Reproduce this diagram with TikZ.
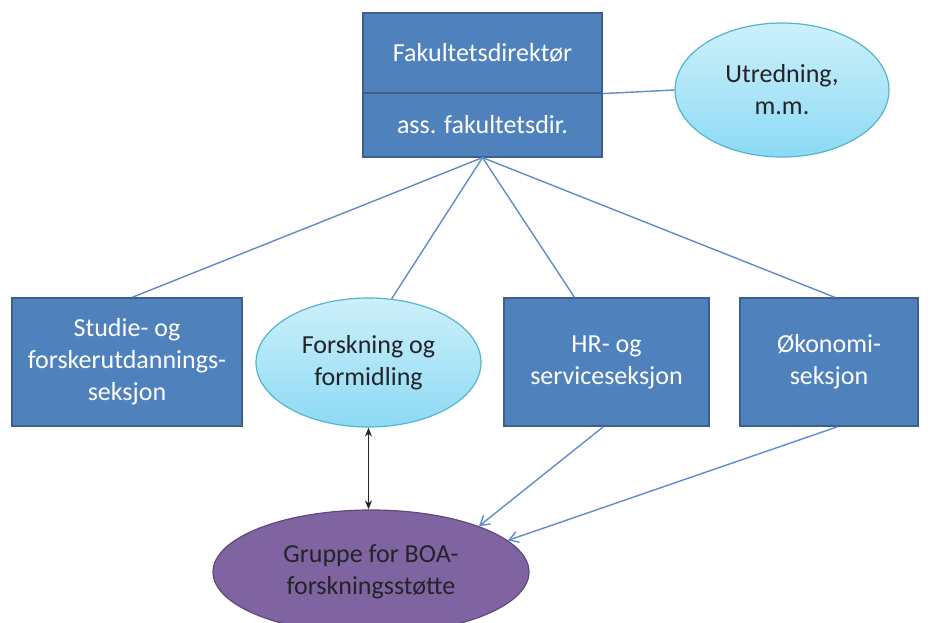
\documentclass[tikz,border=0pt]{standalone}
\usepackage{fontspec}
\setmainfont{Carlito}
\usetikzlibrary{shapes.geometric, arrows.meta, positioning, calc}
\definecolor{unitblue}{RGB}{79, 129, 189}
\definecolor{unitedge}{RGB}{60, 95, 140}
\definecolor{staffcyan}{RGB}{205, 240, 251}
\definecolor{staffcyandark}{RGB}{140, 218, 244}
\definecolor{staffedge}{RGB}{85, 180, 205}
\definecolor{groupviolet}{RGB}{128, 100, 162}
\definecolor{groupedge}{RGB}{95, 74, 122}
\definecolor{inkdark}{RGB}{35, 35, 40}
\definecolor{linkblue}{RGB}{95, 140, 200}
\tikzset{
  orgline/.style={draw=linkblue, line width=1.4pt},
  feedarrow/.style={-{Straight Barb[length=9pt, width=11pt]}, draw=linkblue, line width=1.4pt},
  linkarrow/.style={{Stealth[length=9pt, width=7pt]}-{Stealth[length=9pt, width=7pt]}, draw=black!85, line width=1.6pt}
}
\tikzset{
  unitbox/.style={rectangle, draw=unitedge, line width=1.2pt, fill=unitblue, text=white, align=center, inner sep=0pt, font=\fontsize{26}{32}\selectfont},
  staffoval/.style={ellipse, draw=staffedge, line width=1.2pt, top color=staffcyan, bottom color=staffcyandark, text=inkdark, align=center, inner sep=0pt, font=\fontsize{26}{32}\selectfont},
  groupoval/.style={ellipse, draw=groupedge, line width=1.2pt, fill=groupviolet, text=inkdark, align=center, inner sep=0pt, font=\fontsize{26}{32}\selectfont}
}

\begin{document}
\begin{tikzpicture}[x=1pt, y=-1pt]
    \useasboundingbox (0,0) rectangle (930,623);

    % top: faculty director
    \node[unitbox, minimum width=239pt, minimum height=80pt] (direktor) at (482.5,53) {Fakultetsdirektør};
    \node[unitbox, minimum width=239pt, minimum height=64pt] (assdir) at (482.5,125) {ass. fakultetsdir.};
    \node[staffoval, minimum width=214pt, minimum height=134pt] (utred) at (782,90) {Utredning,\\m.m.};

    % sections
    \node[unitbox, minimum width=230pt, minimum height=128pt] (studie) at (127,362) {Studie- og\\forskerutdannings-\\seksjon};
    \node[staffoval, minimum width=225pt, minimum height=129pt] (forsk) at (368.5,362.5) {Forskning og\\formidling};
    \node[unitbox, minimum width=205pt, minimum height=128pt] (hr) at (606.5,362) {HR- og\\serviceseksjon};
    \node[unitbox, minimum width=178pt, minimum height=128pt] (okonomi) at (829,362) {Økonomi-\\seksjon};

    % research support group
    \node[groupoval, minimum width=316pt, minimum height=124pt] (gruppe) at (371,572) {Gruppe for BOA-\\forskningsstøtte};

    \draw[orgline] (direktor.south east) -- (utred.west);
    \draw[orgline] (assdir.south) -- ([xshift=5pt]studie.north);
    \draw[orgline] (assdir.south) -- (forsk.70);
    \draw[orgline] (assdir.south) -- ([xshift=-32pt]hr.north);
    \draw[orgline] (assdir.south) -- ([xshift=6pt]okonomi.north);

    \draw[linkarrow] (forsk.south) -- (forsk.south |- gruppe.north);
    \draw[feedarrow] ([xshift=-3pt]hr.south) -- (gruppe.23);
    \draw[feedarrow] ([xshift=9pt]okonomi.south) -- (gruppe.13);
\end{tikzpicture}
\end{document}
